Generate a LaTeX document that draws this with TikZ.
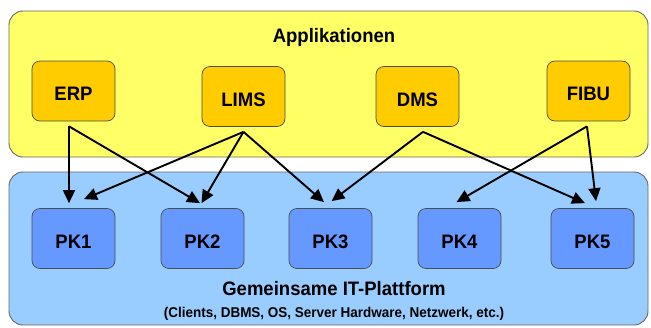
\documentclass[tikz,border=0pt]{standalone}
\usepackage{fontspec}
\setmainfont{Liberation Sans}[FakeStretch=0.95]
\usetikzlibrary{arrows.meta}
\definecolor{appyellow}{HTML}{FFFF66}
\definecolor{appgold}{HTML}{FFCC00}
\definecolor{itblue}{HTML}{99CCFF}
\definecolor{pkblue}{HTML}{6699FF}

\begin{document}
\begin{tikzpicture}[x=1pt,y=-1pt,
    frame/.style={draw=black!60,line width=0.9pt,rounded corners=14pt},
    box/.style={draw=black!70,line width=0.7pt,rounded corners=8pt,
      minimum width=83pt,minimum height=60pt,inner sep=0pt,
      text height=19pt,text depth=0pt,
      font=\bfseries\fontsize{19.5}{23}\selectfont},
    appbox/.style={box,fill=appgold},
    pkbox/.style={box,fill=pkblue},
    title/.style={font=\bfseries\fontsize{19.5}{23}\selectfont},
    arr/.style={-{Triangle[length=13pt,width=12pt]},line width=1.9pt}]

   \useasboundingbox (0,0) rectangle (651,327);

   % the two layers
   \draw[frame,fill=appyellow] (9,11) rectangle (648,157);
   \draw[frame,fill=itblue] (9,172) rectangle (648,325);

   \node[title] (apps) at (334,37) {Applikationen};
   \node[title] (platform) at (334,289) {Gemeinsame IT-Plattform};
   \node[font=\bfseries\fontsize{14.2}{17}\selectfont] (platformsub) at (334,314)
      {(Clients, DBMS, OS, Server Hardware, Netzwerk, etc.)};

   % applications
   \node[appbox] (ERP)  at (73.5,91)  {ERP};
   \node[appbox] (LIMS) at (243.5,96.5) {LIMS};
   \node[appbox] (DMS)  at (417.5,96.5) {DMS};
   \node[appbox] (FIBU) at (588.5,91)  {FIBU};

   % platform components
   \node[pkbox] (PK1) at (73.5,238.5)  {PK1};
   \node[pkbox] (PK2) at (202.5,238.5) {PK2};
   \node[pkbox] (PK3) at (330.5,238.5) {PK3};
   \node[pkbox] (PK4) at (459.5,238.5) {PK4};
   \node[pkbox] (PK5) at (592.5,238.5) {PK5};

   \coordinate (erp-out)  at ([xshift=-4.5pt,yshift=-5pt]ERP.south);
   \coordinate (lims-out) at ([yshift=-5pt]LIMS.south);
   \coordinate (dms-out)  at ([xshift=5.5pt,yshift=-5pt]DMS.south);
   \coordinate (fibu-out) at ([xshift=-1.5pt,yshift=-5pt]FIBU.south);

   % which application uses which component
   \draw[arr] (erp-out) -- ([xshift=-4.5pt,yshift=5pt]PK1.north);
   \draw[arr] (erp-out) -- ([xshift=-2.5pt,yshift=5pt]PK2.north);
   \draw[arr] (lims-out) -- ([xshift=10.5pt,yshift=9pt]PK1.north);
   \draw[arr] (lims-out) -- ([xshift=-1pt,yshift=5pt]PK2.north);
   \draw[arr] (lims-out) -- ([xshift=-6.5pt,yshift=6pt]PK3.north);
   \draw[arr] (dms-out) -- ([xshift=1pt,yshift=7pt]PK3.north);
   \draw[arr] (dms-out) -- ([xshift=-7.5pt,yshift=5pt]PK5.north);
   \draw[arr] (fibu-out) -- ([xshift=-3pt,yshift=6pt]PK4.north);
   \draw[arr] (fibu-out) -- ([xshift=3.5pt,yshift=7pt]PK5.north);

\end{tikzpicture}
\end{document}
